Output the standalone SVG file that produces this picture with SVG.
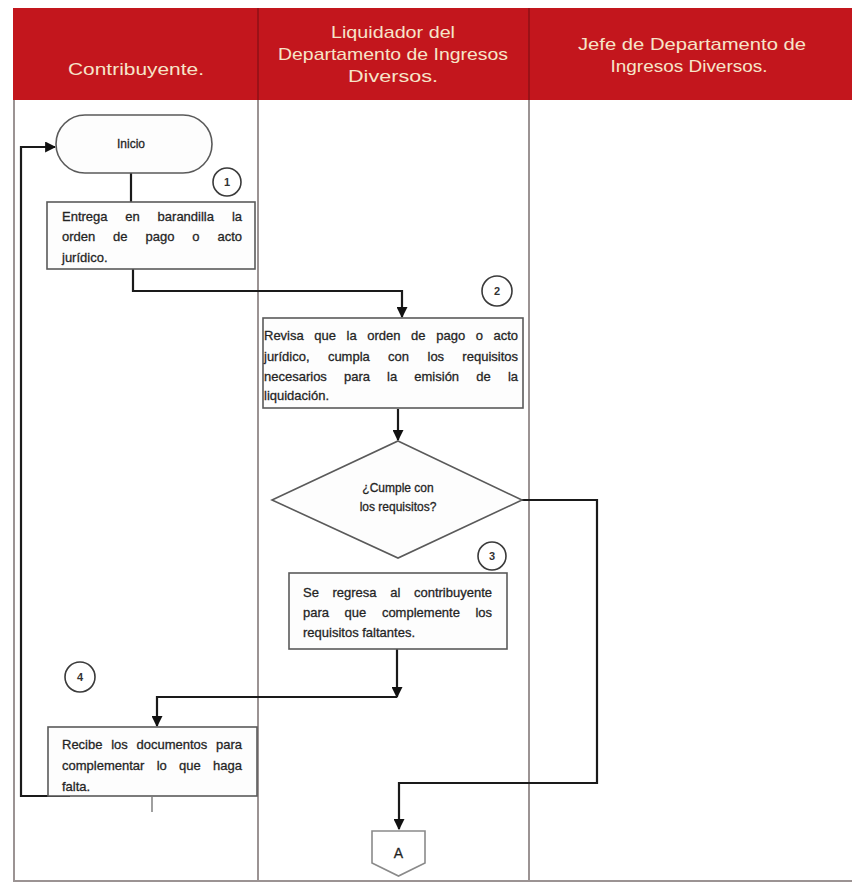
<svg xmlns="http://www.w3.org/2000/svg" width="852" height="884" viewBox="0 0 852 884">
  <style>
    .hdr { font-family: "Liberation Sans", Arial, sans-serif; font-size: 17px; fill: #f6e4c9; text-anchor: middle; }
    .lane { stroke: #9b9393; stroke-width: 2; fill: none; }
    .box { fill: #fdfdfd; stroke: #5a5a5a; stroke-width: 1.6; }
    .txt { font-family: "Liberation Sans", Arial, sans-serif; font-size: 13px; fill: #1e1e1e; stroke: #2a2a2a; stroke-width: 0.3; }
    .ctr { text-anchor: middle; }
    .end { text-anchor: end; }
    .num { font-family: "Liberation Sans", Arial, sans-serif; font-size: 11px; font-weight: bold; fill: #333; text-anchor: middle; }
    .circ { fill: #fff; stroke: #3a3a3a; stroke-width: 1.6; }
    .conn { stroke: #1a1a1a; stroke-width: 2.2; fill: none; }
    .tick { stroke: #777; stroke-width: 1.4; }
  </style>
  <defs>
    <marker id="arrow" viewBox="0 0 10 10" refX="9" refY="5" markerWidth="5" markerHeight="5" orient="auto" markerUnits="strokeWidth">
      <path d="M0,0 L10,5 L0,10 z" fill="#111"/>
    </marker>
  </defs>

  <rect width="852" height="884" fill="#ffffff"/>

  <!-- swimlane header -->
  <g id="header">
    <rect x="13" y="8" width="839" height="92" fill="#c3161d"/>
    <line x1="258" y1="8" x2="258" y2="100" stroke="#8e1116" stroke-width="1.5"/>
    <line x1="529" y1="8" x2="529" y2="100" stroke="#8e1116" stroke-width="1.5"/>
    <text class="hdr" x="136" y="75" textLength="136" lengthAdjust="spacingAndGlyphs">Contribuyente.</text>
    <text class="hdr" x="393" y="38" textLength="124" lengthAdjust="spacingAndGlyphs">Liquidador del</text>
    <text class="hdr" x="393" y="60" textLength="230" lengthAdjust="spacingAndGlyphs">Departamento de Ingresos</text>
    <text class="hdr" x="393" y="82" textLength="90" lengthAdjust="spacingAndGlyphs">Diversos.</text>
    <text class="hdr" x="692" y="50" textLength="228" lengthAdjust="spacingAndGlyphs">Jefe de Departamento de</text>
    <text class="hdr" x="689" y="72" textLength="157" lengthAdjust="spacingAndGlyphs">Ingresos Diversos.</text>
  </g>

  <!-- swimlane body -->
  <g id="lanes">
    <line class="lane" x1="14" y1="100" x2="14" y2="881"/>
    <line class="lane" x1="258" y1="100" x2="258" y2="881"/>
    <line class="lane" x1="529" y1="100" x2="529" y2="881"/>
    <line class="lane" x1="13" y1="881" x2="852" y2="881"/>
  </g>

  <!-- connectors -->
  <g id="connectors">
    <line class="conn" x1="131" y1="173" x2="131" y2="202"/>
    <polyline class="conn" points="133,269 133,291 402,291 402,317" marker-end="url(#arrow)"/>
    <line class="conn" x1="398" y1="409" x2="398" y2="440" marker-end="url(#arrow)"/>
    <line class="conn" x1="397" y1="649" x2="397" y2="697" marker-end="url(#arrow)"/>
    <polyline class="conn" points="397,697 157,697 157,726" marker-end="url(#arrow)"/>
    <polyline class="conn" points="70,796 21,796 21,147 55,147" marker-end="url(#arrow)"/>
    <polyline class="conn" points="522,500 597,500 597,783 399,783 399,829" marker-end="url(#arrow)"/>
    <line class="tick" x1="398" y1="517" x2="398" y2="532"/>
    <line class="tick" x1="152" y1="797" x2="152" y2="812"/>
  </g>

  <!-- start -->
  <g id="inicio">
    <rect x="56" y="115" width="156" height="58" rx="29" ry="29" class="box"/>
    <text class="txt ctr" x="131" y="148" style="font-size:12px">Inicio</text>
  </g>

  <!-- step 1 -->
  <g id="paso1">
    <circle class="circ" cx="227" cy="182" r="14"/>
    <text class="num" x="227" y="186">1</text>
    <rect x="47" y="202" width="208" height="67" class="box"/>
    <text class="txt" x="62" y="221">Entrega</text>
    <text class="txt" x="125.3" y="221">en</text>
    <text class="txt" x="157.6" y="221">barandilla</text>
    <text class="txt end" x="242" y="221">la</text>
    <text class="txt" x="62" y="241">orden</text>
    <text class="txt" x="113.1" y="241">de</text>
    <text class="txt" x="145.5" y="241">pago</text>
    <text class="txt" x="192.3" y="241">o</text>
    <text class="txt end" x="242" y="241">acto</text>
    <text class="txt" x="62" y="262">jurídico.</text>
  </g>

  <!-- step 2 -->
  <g id="paso2">
    <circle class="circ" cx="497" cy="291" r="15"/>
    <text class="num" x="497" y="295">2</text>
    <rect x="263" y="318" width="260" height="90" class="box"/>
    <text class="txt" x="264" y="340">Revisa</text>
    <text class="txt" x="314.3" y="340">que</text>
    <text class="txt" x="346.6" y="340">la</text>
    <text class="txt" x="367.3" y="340">orden</text>
    <text class="txt" x="411.1" y="340">de</text>
    <text class="txt" x="436.2" y="340">pago</text>
    <text class="txt" x="475.7" y="340">o</text>
    <text class="txt end" x="518" y="340">acto</text>
    <text class="txt" x="264" y="361">jurídico,</text>
    <text class="txt" x="327.9" y="361">cumpla</text>
    <text class="txt" x="388.1" y="361">con</text>
    <text class="txt" x="427.5" y="361">los</text>
    <text class="txt end" x="518" y="361">requisitos</text>
    <text class="txt" x="264" y="381">necesarios</text>
    <text class="txt" x="344" y="381">para</text>
    <text class="txt" x="387.1" y="381">la</text>
    <text class="txt" x="414.3" y="381">emisión</text>
    <text class="txt" x="476.2" y="381">de</text>
    <text class="txt end" x="518" y="381">la</text>
    <text class="txt" x="264" y="400">liquidación.</text>
  </g>

  <!-- decision -->
  <g id="decision">
    <polygon points="398,441 522,500 398,558 272,500" class="box"/>
    <text class="txt ctr" x="398" y="492" style="font-size:12px">¿Cumple con</text>
    <text class="txt ctr" x="398" y="511" style="font-size:12px">los requisitos?</text>
  </g>

  <!-- step 3 -->
  <g id="paso3">
    <circle class="circ" cx="492" cy="556" r="14"/>
    <text class="num" x="492" y="560">3</text>
    <rect x="289" y="573" width="218" height="76" class="box"/>
    <text class="txt" x="303" y="597">Se</text>
    <text class="txt" x="332.5" y="597">regresa</text>
    <text class="txt" x="390.2" y="597">al</text>
    <text class="txt end" x="492" y="597">contribuyente</text>
    <text class="txt" x="303" y="617">para</text>
    <text class="txt" x="344.6" y="617">que</text>
    <text class="txt" x="381.9" y="617">complemente</text>
    <text class="txt end" x="492" y="617">los</text>
    <text class="txt" x="303" y="637">requisitos faltantes.</text>
  </g>

  <!-- step 4 -->
  <g id="paso4">
    <circle class="circ" cx="80" cy="677" r="15"/>
    <text class="num" x="80" y="681">4</text>
    <rect x="48" y="727" width="209" height="69" class="box"/>
    <text class="txt" x="62" y="749">Recibe</text>
    <text class="txt" x="111.2" y="749">los</text>
    <text class="txt" x="136.5" y="749">documentos</text>
    <text class="txt end" x="242" y="749">para</text>
    <text class="txt" x="62" y="770">complementar</text>
    <text class="txt" x="156.7" y="770">lo</text>
    <text class="txt" x="179.1" y="770">que</text>
    <text class="txt end" x="242" y="770">haga</text>
    <text class="txt" x="62" y="791">falta.</text>
  </g>

  <!-- off-page connector -->
  <g id="conector-a">
    <polygon points="372,831 425,831 425,863 398.5,876 372,863" fill="#fff" stroke="#8a8a8a" stroke-width="1.6"/>
    <text class="txt ctr" x="398.5" y="858" style="font-size:14px">A</text>
  </g>
</svg>
